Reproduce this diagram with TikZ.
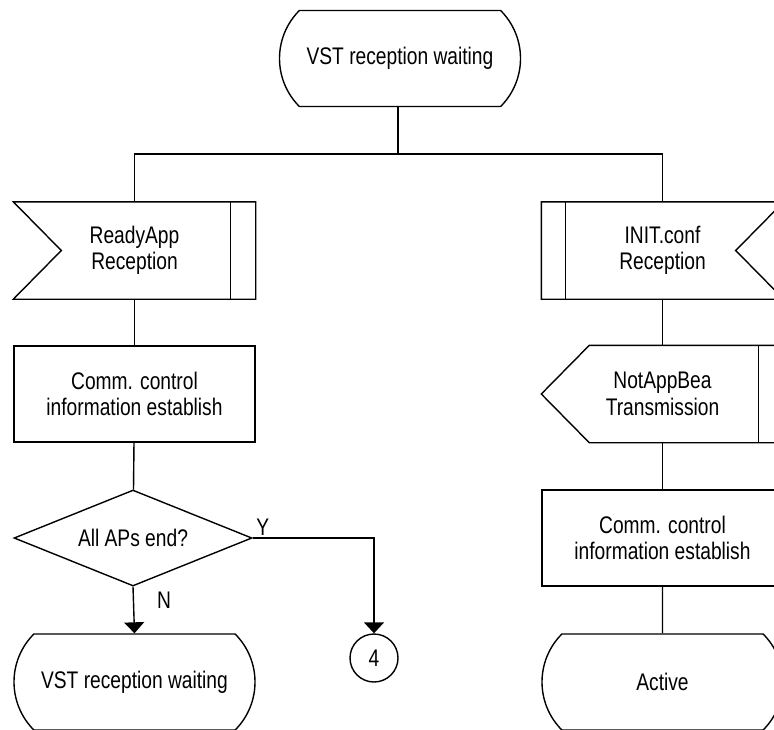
\documentclass[tikz,border=0pt]{standalone}
\usepackage{fontspec}
\setmainfont[FakeStretch=0.8]{Liberation Sans}
\usetikzlibrary{arrows.meta,shapes.geometric,shapes.misc}
\begin{document}
\begin{tikzpicture}[x=1pt, y=-1pt, line width=1.4pt, >={Triangle[width=20pt,length=11pt]},
		every node/.style={font=\fontsize{24}{26.5}\selectfont, align=center},
		state/.style={draw, rounded rectangle, rounded rectangle arc length=90, minimum width=241pt, minimum height=96pt, inner sep=0pt},
		sigbox/.style={rectangle, minimum width=241pt, minimum height=96pt, inner sep=0pt},
		task/.style={draw, rectangle, minimum width=241pt, minimum height=96pt, inner sep=0pt},
		decide/.style={draw, diamond, aspect=2.5, minimum width=238pt, minimum height=96pt, inner sep=0pt},
		conn/.style={draw, circle, minimum size=48pt, inner sep=0pt}]
		\useasboundingbox (0,0) rectangle (774,729);
		\clip (0,0) rectangle (774,729);
		% top state
		\node[state] (wait) at (400,58.5) {VST reception waiting};
		\coordinate (split) at (398,154);
		% left branch
		\node[sigbox] (readyRx) at (134.5,250.5) {ReadyApp\\Reception};
		\node[task] (commL) at (134.5,394) {Comm. control\\information establish};
		\node[decide] (allEnd) at (133,538) {All APs end?};
		\node[state] (waitL) at (134.5,682) {VST reception waiting};
		\node[conn] (four) at (374,658) {4};
		% right branch
		\node[sigbox] (initRx) at (662.5,250.5) {INIT.conf\\Reception};
		\node[sigbox] (notTx) at (662.5,394) {NotAppBea\\Transmission};
		\node[task] (commR) at (662.5,538) {Comm. control\\information establish};
		\node[state] (active) at (662.5,682) {Active};
		% signal outlines and their inner bars
		\draw (readyRx.north west) -- (readyRx.north east) -- (readyRx.south east) -- (readyRx.south west) -- ([xshift=48pt]readyRx.west) -- cycle;
		\draw ([xshift=-25pt]readyRx.north east) -- ([xshift=-25pt]readyRx.south east);
		\draw (initRx.north west) -- (initRx.north east) -- ([xshift=-48pt]initRx.east) -- (initRx.south east) -- (initRx.south west) -- cycle;
		\draw ([xshift=24pt]initRx.north west) -- ([xshift=24pt]initRx.south west);
		\draw (notTx.west) -- ([xshift=48pt]notTx.north west) -- (notTx.north east) -- (notTx.south east) -- ([xshift=48pt]notTx.south west) -- cycle;
		\draw ([xshift=-25pt]notTx.north east) -- ([xshift=-25pt]notTx.south east);
		% connectors
		\draw (wait.south -| split) -- (split) -| (readyRx.north);
		\draw (split) -| (initRx.north);
		\draw (readyRx) -- (commL);
		\draw (commL) -- (allEnd);
		\draw[->] (allEnd.south) -- node[pos=.29, anchor=west, inner sep=0pt, xshift=23pt] {N} (waitL.north);
		\draw[->] (allEnd.east) -| node[pos=0, anchor=south west, inner sep=0pt, xshift=3pt, yshift=2pt] {Y} (four.north);
		\draw (initRx) -- (notTx);
		\draw (notTx) -- (commR);
		\draw (commR) -- (active);
	\end{tikzpicture}
\end{document}
